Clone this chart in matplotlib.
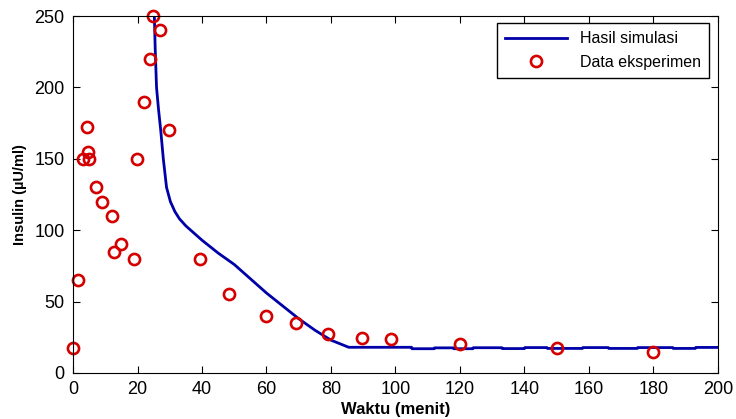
import numpy as np
import matplotlib.pyplot as plt

plt.rcParams['font.family'] = ['Liberation Sans', 'DejaVu Sans']

# Simulation curve
t_sim = [25.2, 25.5, 25.9, 26.5, 27.2, 28.0, 29.0, 30.2, 31.6, 33.0, 35.0, 37.5, 40.0,
         45.0, 50.0, 55.0, 60.0, 65.0, 70.0, 75.0, 80.0, 85.5,
         105.0, 105.1, 112.0, 112.1, 118.0, 118.1, 124.0, 124.1, 133.0, 133.1,
         140.0, 140.1, 147.0, 147.1, 158.0, 158.1, 166.0, 166.1, 175.0, 175.1,
         186.0, 186.1, 193.0, 193.1, 200.0]
i_sim = [252, 226, 200, 185, 170, 150, 130, 120, 113, 108, 103, 98, 93,
         84, 76, 66, 56, 47, 38, 30, 23, 18,
         18, 17, 17, 17.6, 17.6, 17, 17, 17.7, 17.7, 17.1,
         17.1, 17.8, 17.8, 17.2, 17.2, 17.8, 17.8, 17.2, 17.2, 17.8,
         17.8, 17.2, 17.2, 17.9, 17.9]

# Experiment data
t_exp = [0, 1.5, 4.2, 4.5, 3.2, 5.0, 7.1, 9.1, 12.2, 12.8, 14.9, 19.0, 19.7,
         22.1, 23.8, 24.9, 27.0, 29.9, 39.4, 48.5, 60, 69, 79, 89.7, 98.5,
         120, 150, 180]
i_exp = [17.5, 65, 172.5, 155, 150, 150, 130, 120, 110, 85, 90, 80, 150,
         190, 220, 250, 240, 170, 80, 55, 40, 35, 27.5, 24.7, 23.8,
         20, 17.7, 14.4]

fig = plt.figure(figsize=(7.36, 4.19), dpi=100)
ax = fig.add_axes([0.0992, 0.1098, 0.8763, 0.852])

ax.plot(t_sim, i_sim, color='#0000a8', linewidth=2, label='Hasil simulasi')
ax.plot(t_exp, i_exp, linestyle='none', marker='o', markersize=8,
        markerfacecolor='none', markeredgecolor='#d40000', markeredgewidth=1.9,
        label='Data eksperimen', clip_on=False)

ax.set_xlim(0, 200)
ax.set_ylim(0, 250)
ax.set_xticks(np.arange(0, 201, 20))
ax.set_yticks(np.arange(0, 251, 50))
ax.tick_params(direction='in', labelsize=13, length=5, pad=6, top=True, right=True)
ax.set_xlabel('Waktu (menit)', fontsize=12, fontweight='bold', labelpad=3)
ax.set_ylabel('Insulin (µU/ml)', fontsize=10.5, fontweight='bold', labelpad=5)

leg = ax.legend(loc='upper right', fontsize=11.5, frameon=True, fancybox=False,
                edgecolor='black', framealpha=1, borderaxespad=0,
                handlelength=3.9, borderpad=0.5, labelspacing=0.55,
                bbox_to_anchor=(0.986, 0.98))
leg.get_frame().set_linewidth(1)

fig.savefig('out.png', dpi=100)
